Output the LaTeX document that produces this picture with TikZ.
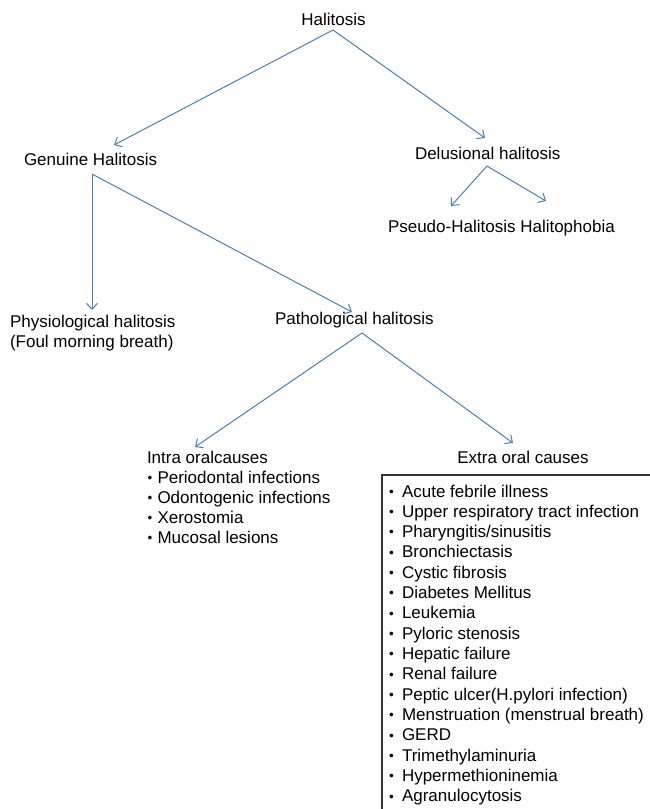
\documentclass[tikz,border=0pt]{standalone}
\usepackage{fontspec}
\setmainfont{Liberation Sans}
\usetikzlibrary{arrows.meta}
\definecolor{arrblue}{HTML}{4A7EBB}
\definecolor{boxgray}{HTML}{333333}
\newcommand{\smbul}{\raisebox{0.8pt}{\fontsize{13.5}{13.5}\selectfont\textbullet}}
\begin{document}
\begin{tikzpicture}[x=1pt,y=-1pt,
  lbl/.style={inner sep=0pt, outer sep=0pt, font=\fontsize{17}{20.3}\selectfont, text=black},
  arr/.style={draw=arrblue, line width=1pt, -{Straight Barb[length=6pt,width=11pt,line width=1pt]}},
  boxline/.style={draw=boxgray, line width=1.1pt}]
\useasboundingbox (0,0) rectangle (650,809);
\begin{scope}
\clip (0,0) rectangle (650,809);
% titles
\node[lbl,anchor=base] (hal) at (333.5,25) {Halitosis};
\node[lbl,anchor=base west] (gen) at (24,165) {Genuine Halitosis};
\node[lbl,anchor=base west] (del) at (415,159) {Delusional halitosis};
\node[lbl,anchor=base west] (pse) at (388,232) {Pseudo-Halitosis};
\node[lbl,anchor=base west] (pho) at ([xshift=4.72pt]pse.base east) {Halitophobia};
\node[lbl,anchor=base west] (phy) at (10,327) {Physiological halitosis};
\node[lbl,anchor=base west] (phyb) at (10,347.3) {(Foul morning breath)};
\node[lbl,anchor=base west] (pat) at (275,324) {Pathological halitosis};
\node[lbl,anchor=base west] (intra) at (147,463) {Intra oralcauses};
\node[lbl,anchor=base] (extra) at (523,463) {Extra oral causes};
% intra oral list
\foreach \t [count=\i] in {Periodontal infections, Odontogenic infections, Xerostomia, Mucosal lesions}
  \node[lbl,anchor=base west] (in\i) at (147.5,463+20.1*\i) {\makebox[10pt][l]{\smbul}\t};
% extra oral box
\draw[boxline] (382,475) rectangle (720,860);
\foreach \t [count=\i from 0] in {Acute febrile illness, Upper respiratory tract infection, Pharyngitis/sinusitis, Bronchiectasis, Cystic fibrosis, Diabetes Mellitus, Leukemia, Pyloric stenosis, Hepatic failure, Renal failure, Peptic ulcer(H.pylori infection), Menstruation (menstrual breath), GERD, Trimethylaminuria, Hypermethioninemia, Agranulocytosis}
  \node[lbl,anchor=base west] (ex\i) at (389,497+20.33*\i) {\makebox[13pt][l]{\smbul}\t};
% connector points
\coordinate (halS) at (333,30);
\coordinate (genT) at (114,145);
\coordinate (delT) at (485,138);
\coordinate (delS) at (487,166);
\coordinate (pseT) at (451,206);
\coordinate (phoT) at (546,201);
\coordinate (genS) at (92,174);
\coordinate (phyT) at (92,310);
\coordinate (patT) at (352,312);
\coordinate (patS) at (362,333);
\coordinate (intT) at (195,447);
\coordinate (extT) at (513,443);
% connectors
\draw[arr] (halS) -- (genT);
\draw[arr] (halS) -- (delT);
\draw[arr] (delS) -- (pseT);
\draw[arr] (delS) -- (phoT);
\draw[arr] (genS) -- (phyT);
\draw[arr] (genS) -- (patT);
\draw[arr] (patS) -- (intT);
\draw[arr] (patS) -- (extT);
\end{scope}
\end{tikzpicture}
\end{document}
